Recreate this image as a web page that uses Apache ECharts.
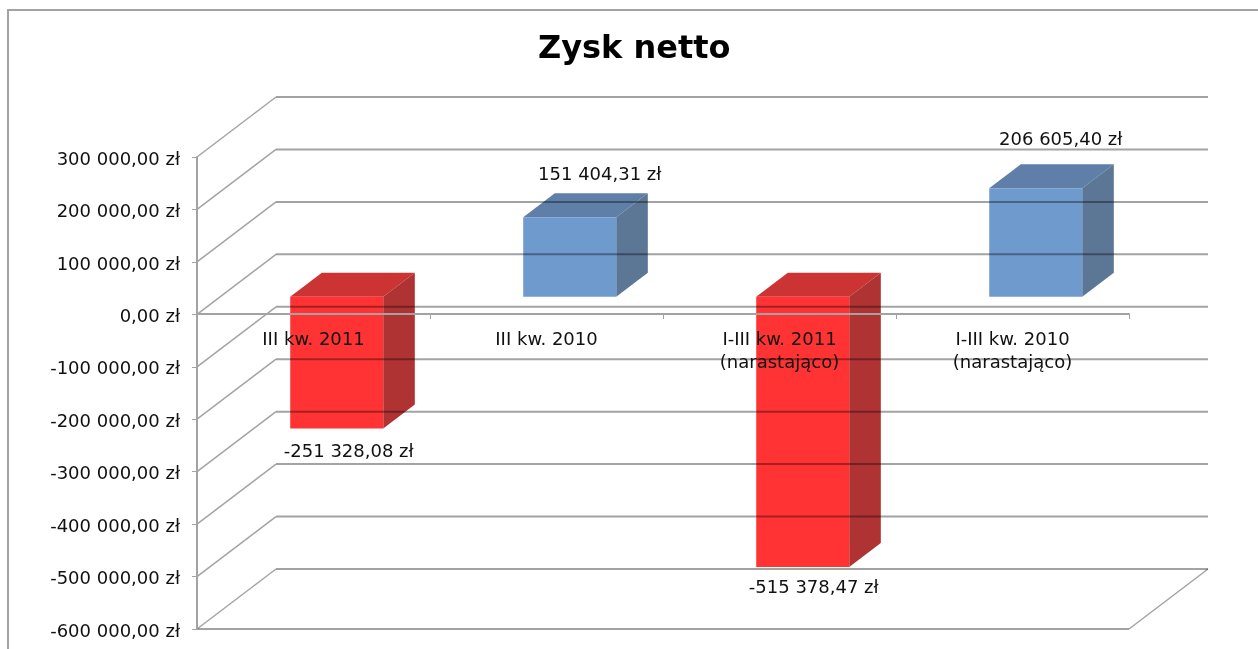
<!DOCTYPE html>
<html>
<head>
<meta charset="utf-8">
<title>Zysk netto</title>
<script src="https://cdn.jsdelivr.net/npm/echarts@6/dist/echarts.min.js"></script>
<style>
html,body{margin:0;padding:0;background:#fff;}
#chart{width:1258px;height:649px;}
</style>
</head>
<body>
<div id="chart"></div>
<script>
var categories = ['III kw. 2011', 'III kw. 2010', 'I-III kw. 2011\n(narastająco)', 'I-III kw. 2010\n(narastająco)'];
var profit = [-251328.08, 151404.31, -515378.47, 206605.40];
var profitLabels = ['-251 328,08 zł', '151 404,31 zł', '-515 378,47 zł', '206 605,40 zł'];
var wallTicks = [300000, 200000, 100000, 0, -100000, -200000, -300000, -400000, -500000, -600000];

// fake 3d: how far the back wall is shifted from the front plane
var depthX = 79, depthY = -60;
var barWidth = 93, barStart = 0.294, barDepth = 0.4;
var lineColor = '#a3a3a3';
var wallColor = 'rgba(0,0,0,0.36)'; // alpha so it darkens the bars it runs behind
var textColor = '#111';
var font = '"DejaVu Sans", Verdana, sans-serif';
// where each value label sits relative to the bar end (as in the original sheet)
var labelNudge = [[12, 23.5], [30, -42], [11, 21], [25, -48]];

var negColors = ['#ff3333', '#cc3333', '#b03333'];
var posColors = ['#6f9acd', '#5f7fa8', '#5c7696'];

function moneyLabel(val){
  var s = String(Math.abs(val)).replace(/\B(?=(\d{3})+$)/g, ' ');
  return (val < 0 ? '-' : '') + s + ',00 zł';
}

function renderBar(params, api){
  var i = api.value(0), val = api.value(1);
  var colors = val < 0 ? negColors : posColors;
  var cx = api.coord([i, 0])[0];
  var left = cx + depthX * barStart - barWidth / 2;
  var right = left + barWidth;
  var top = api.coord([i, Math.max(val, 0)])[1] + depthY * barStart;
  var bottom = api.coord([i, Math.min(val, 0)])[1] + depthY * barStart;
  var dx = depthX * barDepth, dy = depthY * barDepth;
  var nudge = labelNudge[i];
  var endY = val < 0 ? bottom : top;
  return {
    type: 'group',
    children: [
      {type: 'polygon', shape: {points: [[left, top], [right, top], [right + dx, top + dy], [left + dx, top + dy]]}, style: {fill: colors[1]}},
      {type: 'polygon', shape: {points: [[right, top], [right + dx, top + dy], [right + dx, bottom + dy], [right, bottom]]}, style: {fill: colors[2]}},
      {type: 'rect', shape: {x: left, y: top, width: barWidth, height: bottom - top}, style: {fill: colors[0]}},
      {type: 'text', style: {
        text: profitLabels[i],
        x: (left + right) / 2 + nudge[0],
        y: endY + nudge[1],
        fill: textColor,
        font: '18px ' + font,
        align: 'center',
        verticalAlign: 'middle'
      }}
    ]
  };
}

function renderWall(params, api){
  var sys = params.coordSys;
  var val = api.value(0);
  var y = api.coord([0, val])[1];
  var backY = y + depthY;
  var children = [
    {type: 'line', shape: {x1: sys.x, y1: y, x2: sys.x + depthX, y2: backY}, style: {stroke: wallColor, lineWidth: 1.5}},
    {type: 'line', shape: {x1: sys.x + depthX, y1: backY, x2: sys.x + sys.width + depthX, y2: backY}, style: {stroke: wallColor, lineWidth: 2}}
  ];
  if(val === wallTicks[wallTicks.length - 1]){
    // floor edges
    children.push({type: 'line', shape: {x1: sys.x, y1: y, x2: sys.x + sys.width, y2: y}, style: {stroke: wallColor, lineWidth: 2}});
    children.push({type: 'line', shape: {x1: sys.x + sys.width, y1: y, x2: sys.x + sys.width + depthX, y2: backY}, style: {stroke: wallColor, lineWidth: 1.5}});
  }
  return {type: 'group', children: children};
}

var chart = echarts.init(document.getElementById('chart'));
chart.setOption({
  backgroundColor: '#fff',
  animation: false,
  title: {
    text: 'Zysk netto',
    left: 533,
    top: 29,
    textStyle: {color: '#000', fontFamily: font, fontWeight: 'bold', fontSize: 32}
  },
  grid: {left: 197, top: 157, width: 932, height: 472, containLabel: false, outerBoundsMode: 'none'},
  xAxis: {
    type: 'category',
    data: categories,
    z: 5,
    offset: -315,
    axisLine: {onZero: false, lineStyle: {color: lineColor, width: 2}},
    axisTick: {show: true, alignWithLabel: false, length: 5, lineStyle: {color: lineColor, width: 1}},
    axisLabel: {interval: 0, color: textColor, fontFamily: font, fontSize: 18, lineHeight: 23, margin: 15},
    splitLine: {show: false}
  },
  yAxis: {
    type: 'value',
    min: -600000,
    max: 300000,
    interval: 100000,
    z: 5,
    axisLine: {show: true, lineStyle: {color: lineColor, width: 2}},
    axisTick: {show: true, length: 5, lineStyle: {color: lineColor, width: 1}},
    axisLabel: {color: textColor, fontFamily: font, fontSize: 18, margin: 17, verticalAlign: 'top', lineHeight: 6, formatter: moneyLabel},
    splitLine: {show: false}
  },
  series: [
    {
      type: 'custom',
      z: 2,
      clip: false,
      silent: true,
      renderItem: renderBar,
      encode: {x: 0, y: 1},
      data: profit.map(function(v, i){ return [i, v]; })
    },
    {
      type: 'custom',
      z: 3,
      clip: false,
      silent: true,
      renderItem: renderWall,
      encode: {y: 0},
      data: wallTicks.map(function(v){ return [v]; })
    }
  ],
  graphic: [{
    type: 'polyline',
    silent: true,
    shape: {points: [[8, 649], [8, 10], [1258, 10]]},
    style: {stroke: lineColor, fill: 'none', lineWidth: 2}
  }]
});
</script>
</body>
</html>
